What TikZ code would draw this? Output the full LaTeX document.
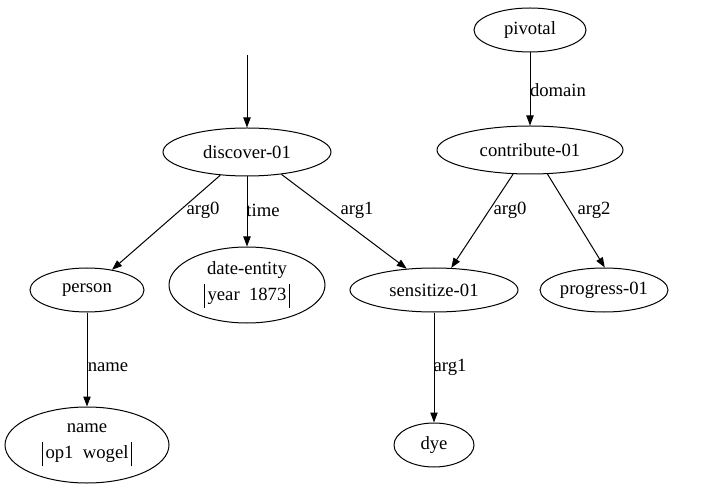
\documentclass[tikz,border=0pt]{standalone}
\usepackage{fontspec}
\setmainfont{Liberation Serif}
\usetikzlibrary{shapes.geometric,arrows.meta}
\def\px{0.75pt}
\tikzset{
  amr/.style={draw, ellipse, line width=\px, inner sep=0pt, align=center,
    font=\fontsize{14}{19.5}\selectfont},
  elabel/.style={inner sep=0pt, font=\fontsize{14}{17}\selectfont},
  edge/.style={line width=\px, -{Triangle[length=7.5pt,width=5.5pt]}}
}
\newcommand{\tallbar}{\vrule height 12.5pt depth 6pt width 0.6pt}
\newcommand{\bartext}[1]{\tallbar\kern2pt#1\kern2pt\tallbar}
\begin{document}
\begin{tikzpicture}[x=0.75pt,y=-0.75pt]
\useasboundingbox (0,0) rectangle (712,498);
% nodes
\node[amr, minimum width=168*\px, minimum height=48*\px] (disc) at (247,152) {discover-01};
\node[amr, minimum width=112*\px, minimum height=44*\px] (piv) at (530,30) {pivotal};
\node[amr, minimum width=186*\px, minimum height=48*\px] (contr) at (530,150) {contribute-01};
\node[amr, minimum width=114*\px, minimum height=44*\px] (pers) at (87,290) {person};
\node[amr, minimum width=156*\px, minimum height=76*\px] (date) at (247,285) {date-entity\\[0pt]\bartext{year\enspace 1873}};
\node[amr, minimum width=168*\px, minimum height=44*\px] (sens) at (434,290) {sensitize-01};
\node[amr, minimum width=128*\px, minimum height=44*\px] (prog) at (604,290) {progress-01};
\node[amr, minimum width=164*\px, minimum height=76*\px] (name) at (87,445) {name\\[0pt]\bartext{op1\enspace wogel}};
\node[amr, minimum width=80*\px, minimum height=44*\px] (dye) at (434,445) {dye};
\coordinate (top) at (247,55);
% edges
\draw[edge] (top) -- (disc);
\draw[edge] (disc.-139.6) -- (pers.39.8);
\draw[edge] (disc) -- (date);
\draw[edge] (disc.-33.3) -- (sens.142);
\draw[edge] (piv) -- (contr);
\draw[edge] (contr.-125.8) -- (sens.52);
\draw[edge] (contr.-54) -- (prog.88);
\draw[edge] (pers) -- (name);
\draw[edge] (sens) -- (dye);
% labels
\node[elabel] (l1) at (203,210) {arg0};
\node[elabel] (l2) at (263,210) {time};
\node[elabel] (l3) at (357,210) {arg1};
\node[elabel] (l4) at (558,90) {domain};
\node[elabel] (l5) at (510,210) {arg0};
\node[elabel] (l6) at (594,210) {arg2};
\node[elabel] (l7) at (108,367) {name};
\node[elabel] (l8) at (450,367) {arg1};
\end{tikzpicture}
\end{document}
